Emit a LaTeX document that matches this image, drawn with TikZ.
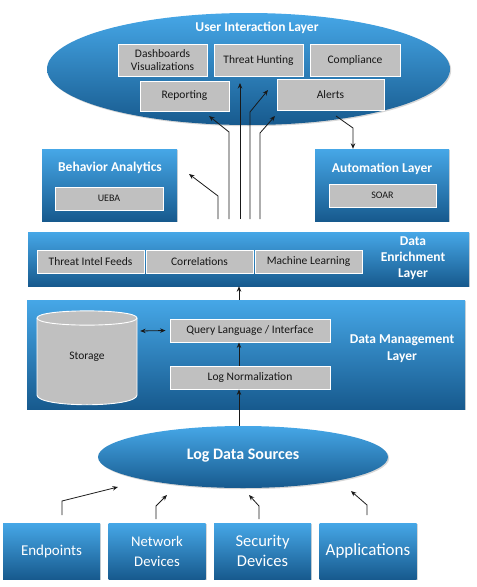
\documentclass[tikz,border=0pt]{standalone}
\usepackage{fontspec}
\setmainfont{Carlito}
\usetikzlibrary{shapes.geometric,arrows.meta,calc,shadows}
\definecolor{bluetop}{HTML}{46A7E7}
\definecolor{bluebot}{HTML}{175A8E}
\definecolor{boxgray}{HTML}{C0C0C0}
\definecolor{txtdark}{HTML}{161616}
\newcommand\myfs[2]{\fontsize{#1}{#2}\selectfont}
\begin{document}
\begin{tikzpicture}[x=1pt,y=-1pt,
  bluefill/.style={top color=bluetop,bottom color=bluebot,draw=none,
    drop shadow={shadow xshift=1.2pt,shadow yshift=-1.2pt,fill=black!35,opacity=0.45}},
  graybox/.style={rectangle,fill=boxgray,draw=white,line width=0.9pt,text=txtdark,
    font=\myfs{11.5}{13},align=center,inner sep=0pt},
  smallgray/.style={graybox,font=\myfs{10}{11}},
  ttl/.style={text=white,font=\bfseries\myfs{13.5}{16},align=center,inner sep=0pt},
  srcbox/.style={rectangle,bluefill,text=white,align=center,inner sep=0pt,
    minimum width=97,minimum height=56},
  arr/.style={-{Stealth[length=5.5pt,width=4.5pt]},line width=0.8pt,draw=black!90},
  darr/.style={{Stealth[length=5.5pt,width=4.5pt]}-{Stealth[length=5.5pt,width=4.5pt]},line width=0.8pt,draw=black!90}
]
\useasboundingbox (0,0) rectangle (477,587);

% ---------- User interaction layer ----------
\node[ellipse,bluefill,minimum width=403,minimum height=112,inner sep=0pt] (ui) at (248.5,69) {};
\node[ttl] (uit) at (257,28) {User Interaction Layer};
\node[graybox,minimum width=89,minimum height=32] (dash) at (162.5,60) {Dashboards\\Visualizations};
\node[graybox,minimum width=89,minimum height=32] (th) at (258.5,60) {Threat Hunting};
\node[graybox,minimum width=90,minimum height=32] (comp) at (355,60) {Compliance};
\node[graybox,minimum width=89,minimum height=30] (rep) at (184.5,96) {Reporting};
\node[graybox,minimum width=107,minimum height=31] (alerts) at (330.5,94.5) {Alerts};

% ---------- Behavior analytics / Automation ----------
\node[rectangle,bluefill,minimum width=135,minimum height=72] (ba) at (109.5,185) {};
\node[ttl] (bat) at (110,168) {Behavior Analytics};
\node[smallgray,minimum width=108,minimum height=23] (ueba) at (109,198.5) {UEBA};

\node[rectangle,bluefill,minimum width=134,minimum height=72] (auto) at (382,185) {};
\node[ttl] (autot) at (382,169) {Automation Layer};
\node[smallgray,minimum width=107,minimum height=23] (soar) at (382.5,195.5) {SOAR};

% ---------- Data enrichment layer ----------
\node[rectangle,bluefill,minimum width=441,minimum height=54] (enr) at (248.5,259) {};
\node[graybox,minimum width=107,minimum height=23] (tif) at (90.5,261.5) {Threat Intel Feeds};
\node[graybox,minimum width=107,minimum height=23] (corr) at (199.5,261.5) {Correlations};
\node[graybox,minimum width=107,minimum height=23] (ml) at (308.5,261.5) {Machine Learning};
\node[ttl] (enrt) at (413,258) {Data\\Enrichment\\Layer};

% ---------- Data management layer ----------
\node[rectangle,bluefill,minimum width=438,minimum height=109] (dm) at (246,354.5) {};
\node[ttl,font=\bfseries\myfs{13.5}{17}] (dmt) at (402,348.5) {Data Management\\Layer};
\node[rectangle,minimum width=100,minimum height=94,inner sep=0pt] (stor) at (87,358) {};
\path[fill=boxgray,draw=white,line width=0.9pt]
  (37,318) -- (37,395) .. controls (37,408) and (137,408) .. (137,395)
  -- (137,318) .. controls (137,308.5) and (37,308.5) .. (37,318) -- cycle;
\draw[white,line width=0.9pt] (37,318) .. controls (37,327.5) and (137,327.5) .. (137,318);
\node[text=txtdark,font=\myfs{11.5}{13},inner sep=0pt] (stort) at (87,357) {Storage};
\node[graybox,minimum width=160,minimum height=23] (ql) at (250,330.5) {Query Language / Interface};
\node[graybox,minimum width=160,minimum height=23] (ln) at (250,377.5) {Log Normalization};

% ---------- Log data sources ----------
\node[ellipse,bluefill,minimum width=290,minimum height=62,inner sep=0pt] (lds) at (243,457) {};
\node[text=white,font=\bfseries\myfs{16}{19},inner sep=0pt] (ldst) at (243,456) {Log Data Sources};

\node[srcbox,font=\myfs{15}{20}] (ep) at (51.5,551) {Endpoints};
\node[srcbox,font=\myfs{14.7}{20}] (nd) at (157,551) {Network\\Devices};
\node[srcbox,font=\myfs{16.5}{20}] (sd) at (262.5,551) {Security\\Devices};
\node[srcbox,font=\myfs{17}{20}] (app) at (368,551) {Applications};

% ---------- connectors ----------
\coordinate (axis) at (239,0);
\draw[arr] (axis |- lds.north) -- (axis |- ln.south);
\draw[arr] (axis |- ln.north) -- (axis |- ql.south);
\draw[darr] ($(stor.east)+(3,-27)$) -- ($(ql.west)+(-4,0)$);
\draw[arr] (axis |- dm.north) -- (axis |- enr.south);

% arrows from enrichment layer upwards
\coordinate (s1) at (218,219);
\coordinate (s2) at (229,219);
\coordinate (s3) at (240,219);
\coordinate (s4) at (250,219);
\coordinate (s5) at (260,219);
\coordinate (e1) at (189,174);
\coordinate (e2) at (209,116);
\coordinate (e3) at (240,83);
\coordinate (e4) at (268,90);
\coordinate (e5) at (275,116);
\draw[arr] (s1) -- (218,196) -- (e1);
\draw[arr] (s2) -- (229,132) -- (e2);
\draw[arr] (s3) -- (e3);
\draw[arr] (s4) -- (250,112) -- (e4);
\draw[arr] (s5) -- (260,133) -- (e5);

% alerts -> automation
\coordinate (al1) at (336,116);
\coordinate (al2) at (353,128);
\draw[arr] (al1) -- (al2) -- (al2 |- auto.north);

% sources -> log data sources
\coordinate (p1) at (62,515);
\coordinate (p2) at (156,519);
\coordinate (p3) at (259,519);
\coordinate (p4) at (367,515);
\coordinate (q1) at (118,487);
\coordinate (q2) at (167,495);
\coordinate (q3) at (249,495);
\coordinate (q4) at (351,491);
\draw[arr] (p1) -- (62,501) -- (q1);
\draw[arr] (p2) -- (156,506) -- (q2);
\draw[arr] (p3) -- (259,506) -- (q3);
\draw[arr] (p4) -- (367,505) -- (q4);
\end{tikzpicture}
\end{document}
